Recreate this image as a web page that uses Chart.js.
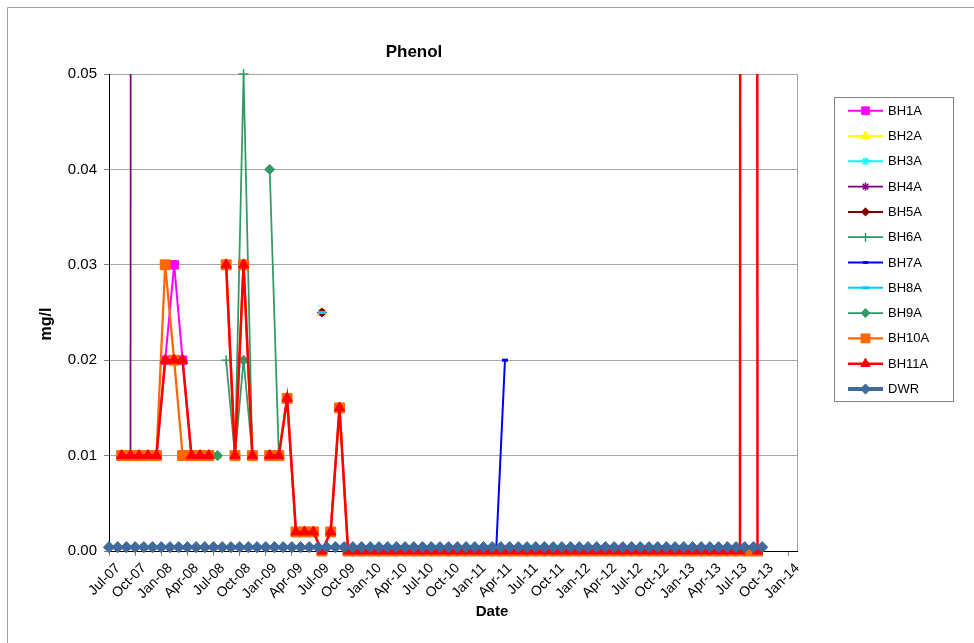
<!DOCTYPE html>
<html>
<head>
<meta charset="utf-8">
<title>Phenol</title>
<script src="https://cdn.jsdelivr.net/npm/chart.js@4.4.1/dist/chart.umd.min.js"></script>
<style>
  html, body { margin: 0; padding: 0; background: #fff; }
  canvas { display: block; }
</style>
</head>
<body>
<canvas id="phenol" width="974" height="643"></canvas>
<script>
const _ = null;

// Sampling dates of the boreholes (monthly, mid-month), Aug-07 .. Sep-13
const sampleDates = [
  '2007-08-15','2007-09-15','2007-10-15','2007-11-15','2007-12-15',
  '2008-01-15','2008-02-15','2008-03-15','2008-04-15','2008-05-15','2008-06-15','2008-07-15','2008-08-15','2008-09-15','2008-10-15','2008-11-15','2008-12-15',
  '2009-01-15','2009-02-15','2009-03-15','2009-04-15','2009-05-15','2009-06-15','2009-07-15','2009-08-15','2009-09-15','2009-10-15','2009-11-15','2009-12-15',
  '2010-01-15','2010-02-15','2010-03-15','2010-04-15','2010-05-15','2010-06-15','2010-07-15','2010-08-15','2010-09-15','2010-10-15','2010-11-15','2010-12-15',
  '2011-01-15','2011-02-15','2011-03-15','2011-04-15','2011-05-15','2011-06-15','2011-07-15','2011-08-15','2011-09-15','2011-10-15','2011-11-15','2011-12-15',
  '2012-01-15','2012-02-15','2012-03-15','2012-04-15','2012-05-15','2012-06-15','2012-07-15','2012-08-15','2012-09-15','2012-10-15','2012-11-15','2012-12-15',
  '2013-01-15','2013-02-15','2013-03-15','2013-04-15','2013-05-15','2013-06-15','2013-07-15','2013-08-15','2013-09-15'
];

// Phenol, mg/l, one value per sampling date (null = not sampled)
const bh1a = [
  0.01,0.01,0.01,0.01,0.01,
  0.02,0.03,0.02,0.01,0.01,0.01,_,_,_,_,_,_,
  _,_,_,_,_,_,_,_,_,_,_,_,
  _,_,_,_,_,_,_,_,_,_,_,_,
  _,_,_,_,_,_,_,_,_,_,_,_,
  _,_,_,_,_,_,_,_,_,_,_,_,
  _,_,_,_,_,_,_,_,_
];
const bh2a = [
  _,_,_,_,_,
  _,_,_,_,_,_,0.01,_,_,_,_,_,
  _,_,_,_,_,_,0.025,_,_,_,_,_,
  _,_,_,_,_,_,_,_,_,_,_,_,
  _,_,_,_,_,_,_,_,_,_,_,_,
  _,_,_,_,_,_,_,_,_,_,_,_,
  _,_,_,_,_,_,_,_,_
];
const bh3a = [
  _,_,_,_,_,
  _,_,_,_,_,_,0.01,_,_,_,_,_,
  _,_,_,_,_,_,0.025,_,_,_,_,_,
  _,_,_,_,_,_,_,_,_,_,_,_,
  _,_,_,_,_,_,_,_,_,_,_,_,
  _,_,_,_,_,_,_,_,_,_,_,_,
  _,_,_,_,_,_,_,_,_
];
const bh4a = [
  _,0.01,2,_,_,
  _,_,_,_,_,_,_,_,_,_,_,_,
  _,_,_,_,_,_,_,_,_,_,_,_,
  _,_,_,_,_,_,_,_,_,_,_,_,
  _,_,_,_,_,_,_,_,_,_,_,_,
  _,_,_,_,_,_,_,_,_,_,_,_,
  _,_,_,_,_,_,_,_,_
];
const bh5a = [
  _,_,_,_,_,
  _,_,_,_,_,_,0.01,_,_,_,_,_,
  _,_,_,_,_,_,0.025,_,_,_,_,_,
  _,_,_,_,_,_,_,_,_,_,_,_,
  _,_,_,_,_,_,_,_,_,_,_,_,
  _,_,_,_,_,_,_,_,_,_,_,_,
  _,_,_,_,_,_,_,_,_
];
const bh6a = [
  _,_,_,_,_,
  _,_,_,_,_,_,_,0.02,0.01,0.05,0.01,_,
  _,_,_,_,_,_,_,_,_,_,_,_,
  _,_,_,_,_,_,_,_,_,_,_,_,
  _,_,_,_,_,_,_,_,_,_,_,_,
  _,_,_,_,_,_,_,_,_,_,_,_,
  _,_,_,_,_,_,_,_,_
];
const bh7a = [
  _,_,_,_,_,
  _,_,_,_,_,_,_,_,_,_,_,_,
  _,_,_,_,_,_,_,_,_,0,0,0,
  0,0,0,0,0,0,0,0,0,0,0,0,
  0,0,0,0.02,_,_,_,_,_,_,_,_,
  _,_,_,_,_,_,_,_,_,_,_,_,
  _,_,_,_,_,_,_,_,_
];
const bh8a = [
  _,_,_,_,_,
  _,_,_,_,_,_,0.01,_,_,_,_,_,
  _,_,_,_,_,_,0.025,_,_,_,_,_,
  _,_,_,_,_,_,_,_,_,_,_,_,
  _,_,_,_,_,_,_,_,_,_,_,_,
  _,_,_,_,_,_,_,_,_,_,_,_,
  _,_,_,_,_,_,_,_,_
];
const bh9a = [
  _,_,_,_,_,
  _,_,_,_,_,_,0.01,_,0.01,0.02,0.01,_,
  0.04,0.01,_,_,_,_,_,_,_,_,_,_,
  _,_,_,_,_,_,_,_,_,_,_,_,
  _,_,_,_,_,_,_,_,_,_,_,_,
  _,_,_,_,_,_,_,_,_,_,_,_,
  _,_,_,_,_,_,_,_,_
];
const bh10a = [
  0.01,0.01,0.01,0.01,0.01,
  0.03,0.02,0.01,0.01,0.01,0.01,_,0.03,0.01,0.03,0.01,_,
  0.01,0.01,0.016,0.002,0.002,0.002,0,0.002,0.015,0,0,0,
  0,0,0,0,0,0,0,0,0,0,0,0,
  0,0,0,0,0,0,0,0,0,0,0,0,
  0,0,0,0,0,0,0,0,0,0,0,0,
  0,0,0,0,0,0,0,0,0
];
const bh11a = [
  0.01,0.01,0.01,0.01,0.01,
  0.02,0.02,0.02,0.01,0.01,0.01,_,0.03,0.01,0.03,0.01,_,
  0.01,0.01,0.016,0.002,0.002,0.002,0,0.002,0.015,0,0,0,
  0,0,0,0,0,0,0,0,0,0,0,0,
  0,0,0,0,0,0,0,0,0,0,0,0,
  0,0,0,0,0,0,0,0,0,0,0,0,
  0,0,0,0,0,0,0,2,0
];

// Drinking water regulation limit, month by month
const dwrDates = [
  '2007-07-01','2007-08-01','2007-09-01','2007-10-01','2007-11-01','2007-12-01',
  '2008-01-01','2008-02-01','2008-03-01','2008-04-01','2008-05-01','2008-06-01','2008-07-01','2008-08-01','2008-09-01','2008-10-01','2008-11-01','2008-12-01',
  '2009-01-01','2009-02-01','2009-03-01','2009-04-01','2009-05-01','2009-06-01','2009-07-01','2009-08-01','2009-09-01','2009-10-01','2009-11-01','2009-12-01',
  '2010-01-01','2010-02-01','2010-03-01','2010-04-01','2010-05-01','2010-06-01','2010-07-01','2010-08-01','2010-09-01','2010-10-01','2010-11-01','2010-12-01',
  '2011-01-01','2011-02-01','2011-03-01','2011-04-01','2011-05-01','2011-06-01','2011-07-01','2011-08-01','2011-09-01','2011-10-01','2011-11-01','2011-12-01',
  '2012-01-01','2012-02-01','2012-03-01','2012-04-01','2012-05-01','2012-06-01','2012-07-01','2012-08-01','2012-09-01','2012-10-01','2012-11-01','2012-12-01',
  '2013-01-01','2013-02-01','2013-03-01','2013-04-01','2013-05-01','2013-06-01','2013-07-01','2013-08-01','2013-09-01','2013-10-01'
];
const dwrValues = [
  0.0004,0.0004,0.0004,0.0004,0.0004,0.0004,
  0.0004,0.0004,0.0004,0.0004,0.0004,0.0004,0.0004,0.0004,0.0004,0.0004,0.0004,0.0004,
  0.0004,0.0004,0.0004,0.0004,0.0004,0.0004,0.0004,0.0004,0.0004,0.0004,0.0004,0.0004,
  0.0004,0.0004,0.0004,0.0004,0.0004,0.0004,0.0004,0.0004,0.0004,0.0004,0.0004,0.0004,
  0.0004,0.0004,0.0004,0.0004,0.0004,0.0004,0.0004,0.0004,0.0004,0.0004,0.0004,0.0004,
  0.0004,0.0004,0.0004,0.0004,0.0004,0.0004,0.0004,0.0004,0.0004,0.0004,0.0004,0.0004,
  0.0004,0.0004,0.0004,0.0004,0.0004,0.0004,0.0004,0.0004,0.0004,0.0004
];

// Quarterly date-axis labels, starting Jul-07
const xTickLabels = [
  'Jul-07','Oct-07','Jan-08','Apr-08','Jul-08','Oct-08','Jan-09','Apr-09','Jul-09',
  'Oct-09','Jan-10','Apr-10','Jul-10','Oct-10','Jan-11','Apr-11','Jul-11','Oct-11',
  'Jan-12','Apr-12','Jul-12','Oct-12','Jan-13','Apr-13','Jul-13','Oct-13','Jan-14'
];

const FONT = "'Liberation Sans', Arial, sans-serif";

// Months elapsed since 1 July 2007 (fractional within the month)
function monthPos(iso) {
  const [y, m, d] = iso.split('-').map(Number);
  const daysInMonth = new Date(y, m, 0).getDate();
  return (y - 2007) * 12 + (m - 7) + (d - 1) / daysInMonth;
}
const onSamples = vals => sampleDates.map((d, i) => ({ x: monthPos(d), y: vals[i] }));

const CLIP = { left: 12, top: 0, right: 12, bottom: 12 };

function series(label, vals, color, style, radius, lineWidth, extra) {
  return Object.assign({
    label: label,
    data: vals,
    borderColor: color,
    backgroundColor: color,
    borderWidth: lineWidth,
    pointStyle: style,
    pointRadius: radius,
    pointBackgroundColor: color,
    pointBorderColor: color,
    pointBorderWidth: 1,
    pointHoverRadius: radius,
    tension: 0,
    spanGaps: false,
    clip: CLIP
  }, extra || {});
}

const datasets = [
  series('BH1A', onSamples(bh1a), '#FF00FF', 'rect', 6, 2),
  series('BH2A', onSamples(bh2a), '#FFFF00', 'triangle', 5.5, 2),
  series('BH3A', onSamples(bh3a), '#00FFFF', 'star', 4.5, 2, { pointBorderWidth: 1.5 }),
  series('BH4A', onSamples(bh4a), '#800080', 'star', 4.5, 1.75, { pointBorderWidth: 1.5 }),
  series('BH5A', onSamples(bh5a), '#800000', 'rectRot', 4.5, 2),
  series('BH6A', onSamples(bh6a), '#339966', 'cross', 5, 1.75, { pointBorderWidth: 1.5, clip: { left: 12, top: 8, right: 12, bottom: 12 } }),
  series('BH7A', onSamples(bh7a), '#0000FF', 'line', 3, 2, { pointBorderWidth: 3 }),
  series('BH8A', onSamples(bh8a), '#00CCFF', 'line', 4, 2, { pointBorderWidth: 3 }),
  series('BH9A', onSamples(bh9a), '#339966', 'rectRot', 5, 1.75),
  series('BH10A', onSamples(bh10a), '#FF6600', 'rect', 7, 2.25),
  series('BH11A', onSamples(bh11a), '#FF0000', 'triangle', 6, 2.5),
  series('DWR', dwrDates.map((d, i) => ({ x: monthPos(d), y: dwrValues[i] })), '#3F6A9C', 'rectRot', 5.6, 4)
];
// later series sit on top of earlier ones
datasets.forEach((ds, i) => { ds.order = datasets.length - 1 - i; });

function marker(ctx, ds, x, y, scale) {
  ctx.fillStyle = ds.pointBackgroundColor;
  ctx.strokeStyle = ds.pointBorderColor;
  ctx.lineWidth = ds.pointBorderWidth;
  if (Chart.helpers && Chart.helpers.drawPoint) {
    Chart.helpers.drawPoint(ctx, {
      pointStyle: ds.pointStyle, rotation: 0,
      radius: ds.pointRadius * scale, borderWidth: ds.pointBorderWidth
    }, x, y);
  } else {
    ctx.beginPath();
    ctx.arc(x, y, ds.pointRadius * scale, 0, Math.PI * 2);
    ctx.fill();
  }
}

const frame = {
  id: 'frame',
  beforeDraw(chart) {
    const c = chart.ctx;
    c.save();
    c.fillStyle = '#fff';
    c.fillRect(0, 0, chart.width, chart.height);
    c.strokeStyle = '#a0a0a0';
    c.lineWidth = 1;
    c.beginPath();
    c.moveTo(7.5, chart.height);
    c.lineTo(7.5, 7.5);
    c.lineTo(chart.width, 7.5);
    c.stroke();
    c.restore();
  },
  beforeDatasetsDraw(chart) {
    const a = chart.chartArea, c = chart.ctx;
    c.save();
    c.strokeStyle = '#a0a0a0';
    c.lineWidth = 1;
    c.beginPath();
    c.moveTo(Math.round(a.right) + 0.5, a.top);
    c.lineTo(Math.round(a.right) + 0.5, a.bottom);
    c.stroke();
    c.restore();
  },
  afterDraw(chart) {
    const c = chart.ctx;
    const xs = chart.scales.x;
    c.save();
    c.fillStyle = '#000';

    // rotated date labels under the quarterly ticks
    c.font = '14px ' + FONT;
    c.textAlign = 'right';
    c.textBaseline = 'middle';
    xs.ticks.forEach((t, i) => {
      const px = xs.getPixelForValue(t.value);
      c.save();
      c.translate(px + 9, xs.top + 15);
      c.rotate(-Math.PI / 4);
      c.fillText(xTickLabels[i], 0, 0);
      c.restore();
    });

    // chart title
    c.font = 'bold 17px ' + FONT;
    c.textAlign = 'center';
    c.textBaseline = 'alphabetic';
    c.fillText('Phenol', 414, 57);
    // axis titles
    c.font = 'bold 15px ' + FONT;
    c.fillText('Date', 492, 616);
    c.save();
    c.translate(47, 324);
    c.rotate(-Math.PI / 2);
    c.textBaseline = 'middle';
    c.font = 'bold 16px ' + FONT;
    c.fillText('mg/l', 0, 0);
    c.restore();

    // legend
    const lx = 834.5, ly = 97.5, lw = 119, lh = 304;
    c.strokeStyle = '#808080';
    c.lineWidth = 1;
    c.strokeRect(lx, ly, lw, lh);
    c.font = '13px ' + FONT;
    c.textAlign = 'left';
    c.textBaseline = 'middle';
    chart.data.datasets.forEach((ds, i) => {
      const y = 110.7 + i * 25.3;
      c.strokeStyle = ds.borderColor;
      c.lineWidth = ds.borderWidth;
      c.beginPath();
      c.moveTo(848, y);
      c.lineTo(883, y);
      c.stroke();
      marker(c, ds, 865.5, y, 0.9);
      c.fillStyle = '#000';
      c.fillText(ds.label, 888, y + 0.5);
    });
    c.restore();
  }
};

new Chart(document.getElementById('phenol'), {
  type: 'line',
  data: { datasets: datasets },
  options: {
    responsive: false,
    animation: false,
    events: [],
    layout: { padding: { left: 0, top: 74, right: 177, bottom: 0 } },
    plugins: {
      legend: { display: false },
      title: { display: false },
      tooltip: { enabled: false }
    },
    scales: {
      x: {
        type: 'linear',
        min: 0,
        max: 79,
        afterFit: s => { s.height = 92; },
        afterBuildTicks: s => { s.ticks = xTickLabels.map((lbl, i) => ({ value: i * 3 })); },
        border: { color: '#000', width: 1 },
        grid: { drawOnChartArea: false, tickLength: 5, tickColor: '#808080' },
        ticks: {
          display: false,
          autoSkip: false,
          maxRotation: 0
        }
      },
      y: {
        min: 0,
        max: 0.05,
        afterFit: s => { s.width = 109; },
        border: { color: '#000', width: 1 },
        grid: {
          color: ctx => (ctx.tick && ctx.tick.value === 0 ? '#000' : '#a6a6a6'),
          tickLength: 5,
          tickColor: '#808080'
        },
        ticks: {
          stepSize: 0.01,
          padding: 7,
          color: '#000',
          font: { family: FONT, size: 15 },
          callback: v => v.toFixed(2)
        }
      }
    }
  },
  plugins: [frame]
});
</script>
</body>
</html>
